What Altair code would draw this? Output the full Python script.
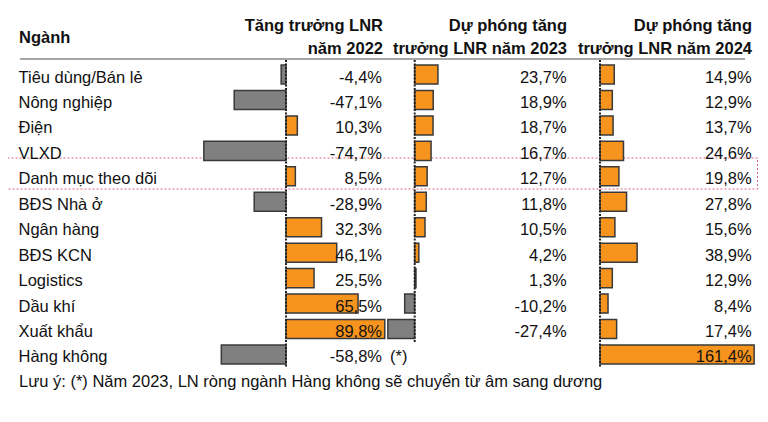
import altair as alt
import pandas as pd

categories = ["Tiêu dùng/Bán lẻ", "Nông nghiệp", "Điện", "VLXD", "Danh mục theo dõi",
              "BĐS Nhà ở", "Ngân hàng", "BĐS KCN", "Logistics", "Dầu khí", "Xuất khẩu", "Hàng không"]
g2022 = [-4.4, -47.1, 10.3, -74.7, 8.5, -28.9, 32.3, 46.1, 25.5, 65.5, 89.8, -58.8]
g2023 = [23.7, 18.9, 18.7, 16.7, 12.7, 11.8, 10.5, 4.2, 1.3, -10.2, -27.4, None]
g2024 = [14.9, 12.9, 13.7, 24.6, 19.8, 27.8, 15.6, 38.9, 12.9, 8.4, 17.4, 161.4]
years = ["2022", "2023", "2024"]

rows = []
for yr, vals in zip(years, [g2022, g2023, g2024]):
    for c, v in zip(categories, vals):
        if v is None:
            continue
        rows.append({"cat": c, "col": yr, "value": v,
                     "label": f"{v:.1f}%".replace(".", ",")})
df = pd.DataFrame(rows)

FONT = "Liberation Sans, Arial, sans-serif"
FS = 16.5
ORANGE = "#F7941D"
GRAY = "#808080"
EDGE = "#3a3a3a"
TXT = "#111111"

y_enc = alt.Y("cat:N", sort=categories,
              scale=alt.Scale(domain=categories, range=[53.8, 359.2],
                              paddingInner=0.25, paddingOuter=0.125),
              axis=None)

# column settings: x-scale domain/range (pixels), zero-line x, value text right edge
cols = {
    "2022": dict(domain=[-100, 100], range=[168, 388], zero=278, y2=359, tx=374),
    "2023": dict(domain=[-100, 100], range=[308.7, 504.7], zero=406.7, y2=334, tx=558.7),
    "2024": dict(domain=[0, 100], range=[592, 687.5], zero=592, y2=359, tx=743.7),
}

one = alt.Data(values=[{}])


def text(t, x, y, align="left", bold=False, size=FS):
    return alt.Chart(one).mark_text(
        align=align, baseline="alphabetic", font=FONT, fontSize=size,
        fontWeight="bold" if bold else "normal", color=TXT
    ).encode(x=alt.value(x), y=alt.value(y), text=alt.value(t))


layers = []

# header separator line
layers.append(alt.Chart(one).mark_rule(color="#a6a6a6", strokeWidth=2).encode(
    x=alt.value(12), x2=alt.value(737), y=alt.value(51)))

# highlight rectangle around "Danh mục theo dõi"
layers.append(alt.Chart(one).mark_rect(
    fillOpacity=0, stroke="#e0607a", strokeDash=[2, 2], strokeWidth=1
).encode(x=alt.value(-0.5), x2=alt.value(749.5), y=alt.value(150), y2=alt.value(181)))

for yr, p in cols.items():
    layers.append(
        alt.Chart(df).transform_filter(alt.datum.col == yr).mark_bar(
            stroke=EDGE, strokeWidth=1.5
        ).encode(
            x=alt.X("value:Q", scale=alt.Scale(domain=p["domain"], range=p["range"]), axis=None),
            y=y_enc,
            color=alt.condition("datum.value > 0", alt.value(ORANGE), alt.value(GRAY)),
        )
    )
    layers.append(alt.Chart(one).mark_rule(
        color="#222222", strokeWidth=2, strokeDash=[2, 1.5]
    ).encode(x=alt.value(p["zero"]), y=alt.value(52), y2=alt.value(p["y2"])))

# row labels
layers.append(
    alt.Chart(pd.DataFrame({"cat": categories})).mark_text(
        align="left", baseline="alphabetic", dy=8, font=FONT, fontSize=FS, color=TXT
    ).encode(x=alt.value(10.5), y=y_enc, text="cat:N")
)

# value labels
for yr, p in cols.items():
    layers.append(
        alt.Chart(df).transform_filter(alt.datum.col == yr).mark_text(
            align="right", baseline="alphabetic", dy=8, font=FONT, fontSize=FS, color=TXT
        ).encode(x=alt.value(p["tx"]), y=y_enc, text="label:N")
    )

# (*) note marker for Hàng không 2023
layers.append(
    alt.Chart(pd.DataFrame({"cat": ["Hàng không"], "note": ["(*)"]})).mark_text(
        align="left", baseline="alphabetic", dy=8, font=FONT, fontSize=FS, color=TXT
    ).encode(x=alt.value(382), y=y_enc, text="note:N")
)

# headers
layers += [
    text("Ngành", 11, 35, bold=True),
    text("Tăng trưởng LNR", 375, 23, align="right", bold=True),
    text("năm 2022", 375, 46, align="right", bold=True),
    text("Dự phóng tăng", 559, 23, align="right", bold=True),
    text("trưởng LNR năm 2023", 559, 46, align="right", bold=True),
    text("Dự phóng tăng", 744, 23, align="right", bold=True),
    text("trưởng LNR năm 2024", 744, 46, align="right", bold=True),
    text("Lưu ý: (*) Năm 2023, LN ròng ngành Hàng không sẽ chuyển từ âm sang dương", 11, 379),
]

chart = alt.layer(*layers).resolve_scale(x="independent").properties(
    width=752, height=406, padding=0, autosize="none"
).configure_view(stroke=None)

chart.save("out.html", embed_options={"renderer": "svg", "actions": False})
